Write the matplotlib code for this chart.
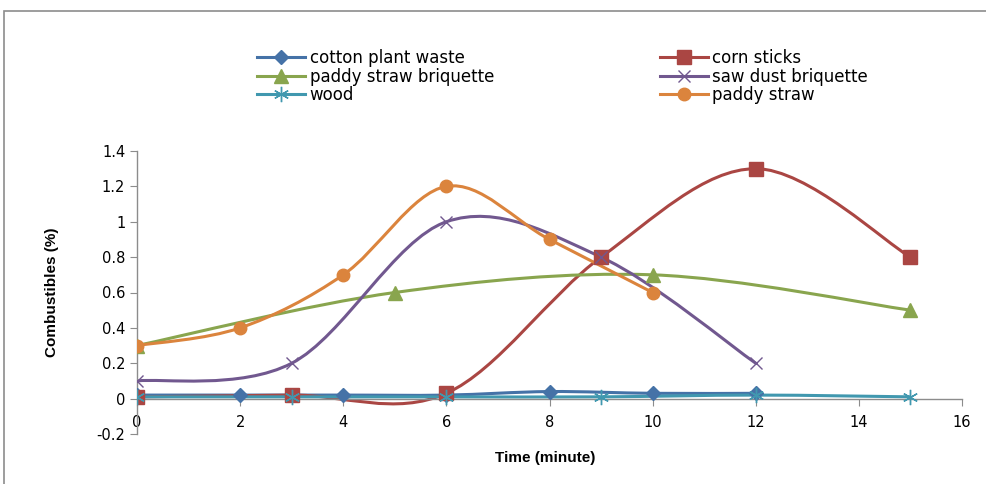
import matplotlib
matplotlib.use("Agg")
import matplotlib.pyplot as plt
import numpy as np
from matplotlib.path import Path
from matplotlib.patches import PathPatch, Rectangle
from matplotlib.lines import Line2D

# ---- data ----
cotton_x = [0, 2, 4, 6, 8, 10, 12]
cotton_y = [0.02, 0.02, 0.02, 0.02, 0.04, 0.03, 0.03]

corn_x = [0, 3, 6, 9, 12, 15]
corn_y = [0.01, 0.02, 0.03, 0.8, 1.3, 0.8]

psb_x = [0, 5, 10, 15]
psb_y = [0.3, 0.6, 0.7, 0.5]

saw_x = [0, 3, 6, 9, 12]
saw_y = [0.1, 0.2, 1.0, 0.8, 0.2]

wood_x = [0, 3, 6, 9, 12, 15]
wood_y = [0.01, 0.01, 0.01, 0.01, 0.02, 0.01]

ps_x = [0, 2, 4, 6, 8, 10]
ps_y = [0.3, 0.4, 0.7, 1.2, 0.9, 0.6]

labels = ["cotton plant waste", "corn sticks", "paddy straw briquette",
          "saw dust briquette", "wood", "paddy straw"]

series = [
    (cotton_x, cotton_y, "#4572A7", "D", 7, labels[0]),
    (corn_x, corn_y, "#AA4643", "s", 10, labels[1]),
    (psb_x, psb_y, "#89A54E", "^", 10, labels[2]),
    (saw_x, saw_y, "#71588F", "x", 9, labels[3]),
    (wood_x, wood_y, "#4198AF", (6, 2, 0), 11, labels[4]),
    (ps_x, ps_y, "#DB843D", "o", 9, labels[5]),
]


def smooth_path(xs, ys):
    pts = np.column_stack([xs, ys]).astype(float)
    n = len(pts)
    verts = [pts[0]]
    codes = [Path.MOVETO]
    for i in range(n - 1):
        p0 = pts[i - 1] if i > 0 else pts[i]
        p1 = pts[i]
        p2 = pts[i + 1]
        p3 = pts[i + 2] if i + 2 < n else pts[i + 1]
        c1 = p1 + (p2 - p0) / 6.0
        c2 = p2 - (p3 - p1) / 6.0
        verts += [c1, c2, p2]
        codes += [Path.CURVE4] * 3
    return Path(verts, codes)


fig = plt.figure(figsize=(9.87, 4.84), dpi=100)
fig.patches.append(Rectangle((4 / 987, -0.1), 1.2, 1 - 11 / 484 + 0.1,
                             transform=fig.transFigure, fill=False,
                             edgecolor="#8c8c8c", linewidth=1.2))

ax = fig.add_axes([137 / 987, 1 - 434 / 484, (962 - 137) / 987, (434 - 151) / 484])

handles = []
for xs, ys, col, mk, ms, lab in series:
    ax.add_patch(PathPatch(smooth_path(xs, ys), facecolor="none",
                           edgecolor=col, linewidth=2.2, zorder=2))
    ax.plot(xs, ys, linestyle="none", marker=mk, markersize=ms, color=col,
            markeredgecolor=col, markeredgewidth=1.0, zorder=3)
    handles.append(Line2D([], [], color=col, linewidth=2.2, marker=mk,
                          markersize=ms, markeredgecolor=col,
                          markeredgewidth=1.0))

ax.set_xlim(0, 16)
ax.set_ylim(-0.2, 1.4)
ax.set_xticks(np.arange(0, 17, 2))
ax.set_yticks(np.round(np.arange(-0.2, 1.41, 0.2), 1))
ax.set_yticklabels(["-0.2", "0", "0.2", "0.4", "0.6", "0.8", "1", "1.2", "1.4"])
ax.spines["top"].set_visible(False)
ax.spines["right"].set_visible(False)
ax.spines["bottom"].set_position(("data", 0))
for s in ("left", "bottom"):
    ax.spines[s].set_color("#8c8c8c")
    ax.spines[s].set_linewidth(1.0)
ax.tick_params(axis="both", colors="#8c8c8c", labelcolor="black",
               labelsize=10.5, direction="out", length=5)
ax.tick_params(axis="x", pad=7)
for t in ax.get_xticklabels() + ax.get_yticklabels():
    t.set_fontfamily("DejaVu Sans")

ax.set_xlabel("Time (minute)", fontsize=11, fontweight="bold",
              family=["Liberation Sans Narrow", "Liberation Sans"])
ax.xaxis.label.set_va("center")
ax.xaxis.set_label_coords(0.495, -0.085)
ax.set_ylabel("Combustibles (%)", fontsize=11, fontweight="bold",
              family=["Liberation Sans Narrow", "Liberation Sans"])
ax.yaxis.set_label_coords(-0.095, 0.5)

leg_kw = dict(loc="upper left", frameon=False, handlelength=2.9,
              handletextpad=0.25, labelspacing=0.04, borderpad=0,
              borderaxespad=0, prop={"family": "DejaVu Sans", "size": 12})
leg1 = fig.legend([handles[0], handles[2], handles[4]],
                  [labels[0], labels[2], labels[4]],
                  bbox_to_anchor=(257 / 987, 1 - 49 / 484), **leg_kw)
leg2 = fig.legend([handles[1], handles[3], handles[5]],
                  [labels[1], labels[3], labels[5]],
                  bbox_to_anchor=(660 / 987, 1 - 49 / 484), **leg_kw)

fig.savefig("out.png", dpi=100)
